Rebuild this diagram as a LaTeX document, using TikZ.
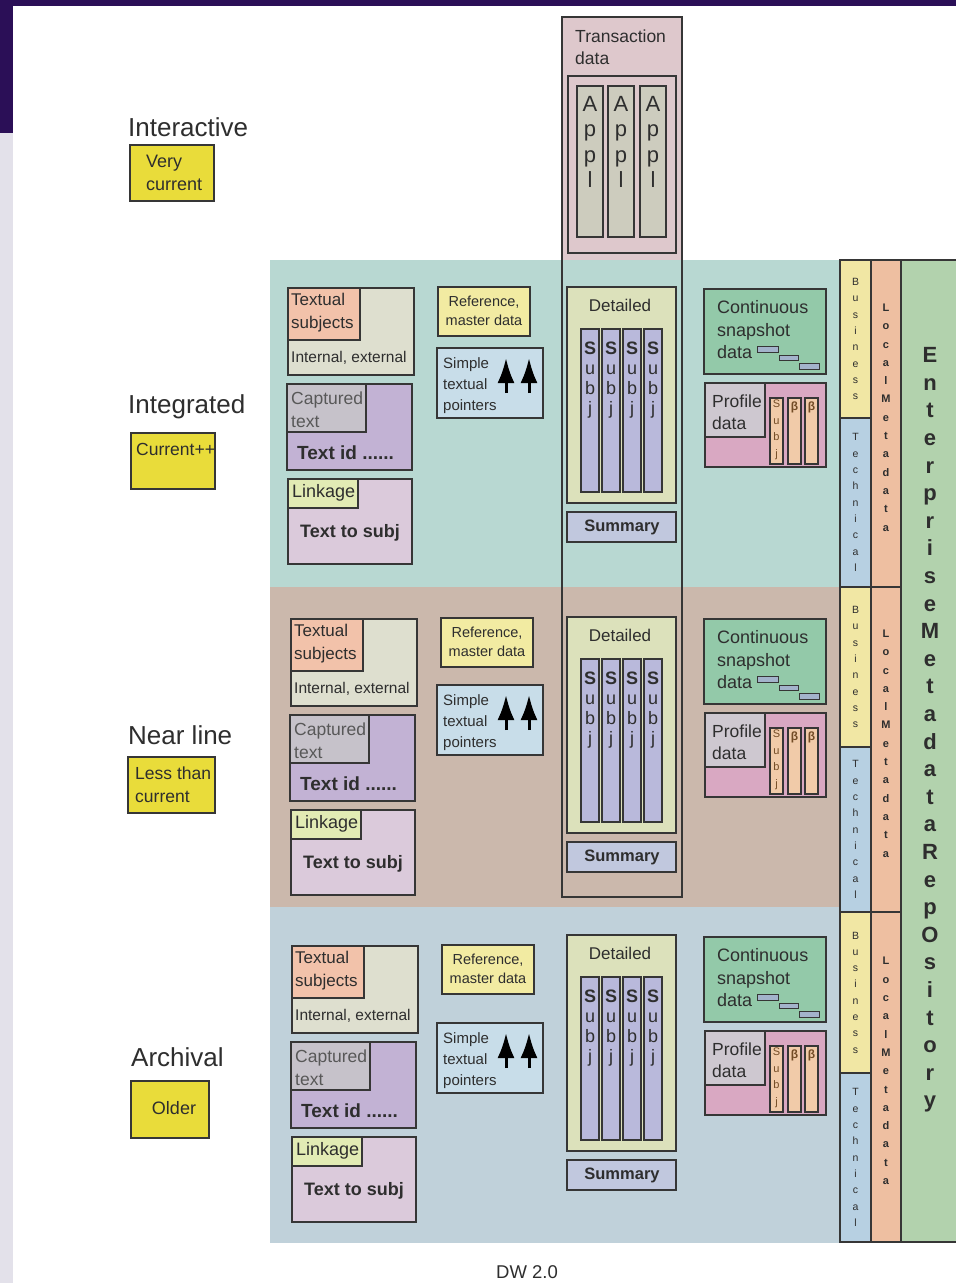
\documentclass[tikz,border=0pt]{standalone}
\usepackage{fontspec}
\setmainfont{Liberation Sans}
\usetikzlibrary{arrows.meta}

\definecolor{topbar}{HTML}{2B0F57}
\definecolor{side}{HTML}{E3E1EA}
\definecolor{intband}{HTML}{B8D8D2}
\definecolor{nearband}{HTML}{CBB8AC}
\definecolor{archband}{HTML}{C0D1DA}
\definecolor{trans}{HTML}{DEC8CC}
\definecolor{appl}{HTML}{CDCCBE}
\definecolor{tsbody}{HTML}{DEDFCF}
\definecolor{tshead}{HTML}{F2C2AA}
\definecolor{capbody}{HTML}{C2B2D4}
\definecolor{caphead}{HTML}{C6C2CA}
\definecolor{linkbody}{HTML}{DBCADB}
\definecolor{linkhead}{HTML}{E2EBB4}
\definecolor{refbox}{HTML}{F2EBA2}
\definecolor{simple}{HTML}{C8DDE9}
\definecolor{detail}{HTML}{DCE1BB}
\definecolor{subj}{HTML}{B9B9DB}
\definecolor{summary}{HTML}{C1C8DE}
\definecolor{cont}{HTML}{93C9A9}
\definecolor{bar}{HTML}{A3B3CB}
\definecolor{prof}{HTML}{D9A8C2}
\definecolor{profhead}{HTML}{CEC8D0}
\definecolor{pcol}{HTML}{F1CBA9}
\definecolor{bus}{HTML}{F1E7A4}
\definecolor{tech}{HTML}{B7D0E2}
\definecolor{local}{HTML}{EEBFA1}
\definecolor{ent}{HTML}{B2D2AD}
\definecolor{ybox}{HTML}{E9DC3A}
\definecolor{edge}{HTML}{363636}
\definecolor{txt}{HTML}{2E2E2E}

\newcommand{\fsz}[2]{\fontsize{#1pt}{#2pt}\selectfont}

\begin{document}
\begin{tikzpicture}[x=1pt, y=-1pt, >=Latex,
    every node/.style={text=txt, inner sep=0pt},
    blk/.style={draw=edge, line width=1.2pt},
    lbl/.style={anchor=west, align=left},
    vert/.style={align=center, font=\fsz{10.5}{16.3}},
    ptr/.style={line width=3pt, -{Latex[length=25pt, width=17pt]}}]
    % 画布
    \useasboundingbox (0,0) rectangle (956,1283);
    \fill[white] (0,0) rectangle (956,1283);
    \fill[side] (0,133) rectangle (13,1283);
    \fill[topbar] (0,0) rectangle (956,6);
    \fill[topbar] (0,0) rectangle (13,133);

    % 层带
    \fill[intband] (270,260) rectangle (840,587);
    \fill[nearband] (270,587) rectangle (840,907);
    \fill[archband] (270,907) rectangle (840,1243);

    % 左侧标签
    \node[lbl, font=\fsz{26}{30}] (interactive) at (128,127) {Interactive};
    \draw[blk, fill=ybox] (130,145) rectangle (214,201);
    \node[lbl, font=\fsz{18}{23}] (verycur) at (146,173) {Very\\current};
    \node[lbl, font=\fsz{26}{30}] (integrated) at (128,407) {Integrated};
    \draw[blk, fill=ybox] (131,433) rectangle (215,489);
    \node[lbl, font=\fsz{17.5}{22}] (curpp) at (136,449) {Current++};
    \node[lbl, font=\fsz{26}{30}] (nearline) at (128,735) {Near line};
    \draw[blk, fill=ybox] (128,757) rectangle (215,813);
    \node[lbl, font=\fsz{17.5}{23}] (lessthan) at (135,785) {Less than\\current};
    \node[lbl, font=\fsz{26}{30}] (archival) at (131,1057) {Archival};
    \draw[blk, fill=ybox] (131,1081) rectangle (209,1138);
    \node[font=\fsz{18}{22}] (older) at (174,1108) {Older};

    % 事务数据
    \fill[trans] (562,17) rectangle (682,260);
    \draw[blk] (562,17) rectangle (682,897);
    \node[lbl, font=\fsz{17.5}{22}] (transdata) at (575,47) {Transaction\\data};
    \draw[blk, fill=trans] (568,76) rectangle (676,253);
    \foreach \i/\x in {1/577, 2/608, 3/640} {
        \draw[blk, fill=appl] (\x,86) rectangle +(26,151);
        \node[align=center, font=\fsz{22}{25.5}] (appl\i) at (\x+13,142) {A\\p\\p\\l};
    }

    % 每一层
    \foreach \row/\dl/\ds/\dm/\dx in {1/0/0/0/0, 2/331/337/330/3, 3/658/675/648/4} {
        \begin{scope}[shift={(\dx,\dl)}]
            \draw[blk, fill=tsbody] (288,288) rectangle (414,375);
            \draw[blk, fill=tshead] (288,288) rectangle (360,340);
            \node[lbl, font=\fsz{17}{23}] (tsub\row) at (291,313) {Textual\\subjects};
            \node[lbl, font=\fsz{15.5}{18}] (tint\row) at (291,358) {Internal, external};
            \draw[blk, fill=capbody] (287,384) rectangle (412,470);
            \draw[blk, fill=caphead] (287,384) rectangle (366,432);
            \node[lbl, font=\fsz{17.5}{23}, text=txt!80] (capt\row) at (291,410) {Captured\\text};
            \node[lbl, font=\bfseries\fsz{19}{22}] (textid\row) at (297,453) {Text id ......};
            \draw[blk, fill=linkbody] (288,479) rectangle (412,564);
            \draw[blk, fill=linkhead] (288,479) rectangle (358,508);
            \node[lbl, font=\fsz{18}{22}] (link\row) at (292,493) {Linkage};
            \node[lbl, font=\bfseries\fsz{18}{22}] (tsubj\row) at (300,533) {Text to subj};
            \draw[blk, fill=refbox] (438,287) rectangle (530,336);
            \node[align=center, font=\fsz{14.5}{19}] (ref\row) at (484,311) {Reference,\\master data};
        \end{scope}
        \begin{scope}[shift={(0,\ds)}]
            \draw[blk, fill=simple] (437,348) rectangle (543,418);
            \node[lbl, font=\fsz{15}{21}] (simple\row) at (443,386) {Simple\\textual\\pointers};
            \coordinate (pa\row) at (506,393);
            \coordinate (pb\row) at (506,358);
            \coordinate (pc\row) at (529,393);
            \coordinate (pd\row) at (529,358);
            \draw[ptr] (pa\row) -- (pb\row);
            \draw[ptr] (pc\row) -- (pd\row);
        \end{scope}
        \begin{scope}[shift={(0,\dm)}]
            \draw[blk, fill=detail] (567,287) rectangle (676,503);
            \node[font=\fsz{17}{20}] (det\row) at (620,305) {Detailed};
            \foreach \j/\x in {1/581, 2/602, 3/623, 4/644} {
                \draw[blk, fill=subj] (\x,329) rectangle +(18,163);
                \node[align=center, font=\fsz{18}{20}] (subj\row\j) at (\x+9,380) {\textbf{S}\\u\\b\\j};
            }
            \draw[blk, fill=summary] (567,512) rectangle (676,542);
            \node[font=\bfseries\fsz{16.5}{20}] (sum\row) at (622,527) {Summary};
            \draw[blk, fill=cont] (704,289) rectangle (826,374);
            \node[lbl, font=\fsz{18}{22.5}] (cont\row) at (717,330) {Continuous\\snapshot\\data};
            \draw[fill=bar, draw=edge, line width=0.8pt] (757,346) rectangle (778,352);
            \draw[fill=bar, draw=edge, line width=0.8pt] (779,355) rectangle (798,360);
            \draw[fill=bar, draw=edge, line width=0.8pt] (799,363) rectangle (819,369);
            \draw[blk, fill=prof] (705,383) rectangle (826,467);
            \draw[blk, fill=profhead] (705,383) rectangle (765,437);
            \node[lbl, font=\fsz{17.5}{22}] (prof\row) at (712,412) {Profile\\data};
            \draw[blk, fill=pcol] (770,398) rectangle (783,464);
            \draw[blk, fill=pcol] (788,398) rectangle (801,464);
            \draw[blk, fill=pcol] (805,398) rectangle (818,464);
            \node[align=center, font=\fsz{11}{16.5}, text=brown!60!black] (psubj\row) at (776.5,430) {S\\u\\b\\j};
            \node[font=\bfseries\fsz{12}{14}, text=brown!60!black] (pbeta\row) at (794.5,407) {β};
            \node[font=\bfseries\fsz{12}{14}, text=brown!60!black] (pbetb\row) at (811.5,407) {β};
        \end{scope}
    }

    % 元数据
    \foreach \row/\top/\mid/\bot in {1/260/418/587, 2/587/747/912, 3/912/1073/1242} {
        \draw[blk, fill=bus] (840,\top) rectangle (871,\mid);
        \draw[blk, fill=tech] (840,\mid) rectangle (871,\bot);
        \draw[blk, fill=local] (871,\top) rectangle (901,\bot);
        \node[vert] (bus\row) at (855.5,{(\top+\mid)/2}) {B\\u\\s\\i\\n\\e\\s\\s};
        \node[vert] (tech\row) at (855.5,{(\mid+\bot)/2}) {T\\e\\c\\h\\n\\i\\c\\a\\l};
        \node[vert, font=\bfseries\fsz{11}{18.3}] (local\row) at (886,{(\top+\bot)/2-6}) {L\\o\\c\\a\\l\\M\\e\\t\\a\\d\\a\\t\\a};
    }
    \draw[blk, fill=ent] (901,260) rectangle (962,1242);
    \node[align=center, font=\bfseries\fsz{22}{27.6}] (enterprise) at (930,730)
        {E\\n\\t\\e\\r\\p\\r\\i\\s\\e\\M\\e\\t\\a\\d\\a\\t\\a\\R\\e\\p\\O\\s\\i\\t\\o\\r\\y};

    % 标题
    \node[font=\fsz{18.5}{22}] (caption) at (527,1272) {DW 2.0};
\end{tikzpicture}
\end{document}
